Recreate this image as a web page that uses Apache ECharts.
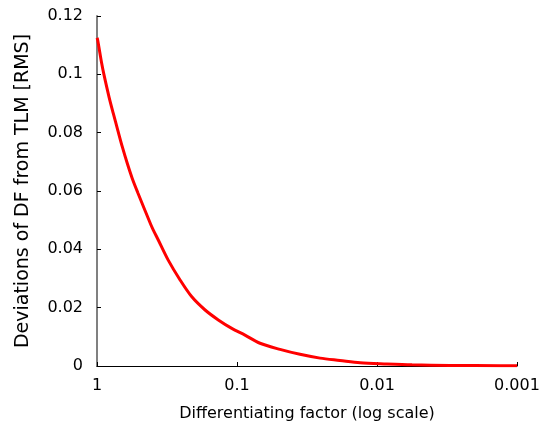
<!DOCTYPE html>
<html>
<head>
<meta charset="utf-8">
<script src="https://cdn.jsdelivr.net/npm/echarts@6/dist/echarts.min.js"></script>
<style>
  html, body { margin: 0; padding: 0; background: #fff; }
  #chart { width: 547px; height: 431px; }
</style>
</head>
<body>
<div id="chart"></div>
<script>
  // differentiating factor (log scale) and RMS deviation
  const factors = [1, 0.989, 0.926, 0.891, 0.821, 0.765, 0.711, 0.660, 0.608, 0.560,
    0.512, 0.413, 0.396, 0.365, 0.310, 0.255, 0.211, 0.169, 0.136, 0.109, 0.0877,
    0.0685, 0.0493, 0.0355, 0.0255, 0.0184, 0.0132, 0.00853, 0.00562, 0.00301, 0.00132, 0.001]
  const deviations = [0.1125, 0.1118, 0.1038, 0.0998, 0.0923, 0.0866, 0.0809, 0.0752, 0.0695, 0.0643,
    0.0595, 0.0485, 0.0466, 0.0432, 0.0363, 0.0295, 0.0238, 0.0192, 0.0158, 0.0129, 0.0106,
    0.0078, 0.0057, 0.0040, 0.0027, 0.0019, 0.0011, 0.0007, 0.0004, 0.0002, 0.0001, 0.00005]
  const xTickLabels = { 1: '1', 0.1: '0.1', 0.01: '0.01', 0.001: '0.001' }

  const font = 'DejaVu Sans, sans-serif'
  const chart = echarts.init(document.getElementById('chart'))

  chart.setOption({
    animation: false,
    grid: { left: 97, right: 30, top: 16, bottom: 65 },
    xAxis: {
      type: 'log',
      logBase: 10,
      inverse: true,
      min: 0.001,
      max: 1,
      name: 'Differentiating factor (log scale)',
      nameLocation: 'middle',
      nameGap: 40,
      nameTextStyle: { color: '#000', fontSize: 16, fontFamily: font },
      axisLine: { lineStyle: { color: '#000', width: 1 } },
      axisTick: { inside: true, length: 4, lineStyle: { color: '#000' } },
      minorTick: { show: false },
      splitLine: { show: false },
      axisLabel: {
        color: '#000',
        fontSize: 16,
        fontFamily: font,
        margin: 12,
        formatter: v => xTickLabels[+v.toPrecision(3)] || ''
      }
    },
    yAxis: {
      type: 'value',
      min: 0,
      max: 0.12,
      interval: 0.02,
      name: 'Deviations of DF from TLM [RMS]',
      nameLocation: 'middle',
      nameGap: 64,
      nameTextStyle: { color: '#000', fontSize: 19, fontFamily: font },
      axisLine: { show: true, lineStyle: { color: '#808080', width: 2 } },
      axisTick: { show: true, inside: true, length: 4, lineStyle: { color: '#000' } },
      splitLine: { show: false },
      axisLabel: {
        color: '#000',
        fontSize: 16,
        fontFamily: font,
        margin: 14,
        formatter: v => +v.toFixed(2) + ''
      }
    },
    series: [{
      type: 'line',
      data: factors.map((f, i) => [f, deviations[i]]),
      showSymbol: false,
      smooth: 0.3,
      lineStyle: { color: '#ff0000', width: 3 }
    }]
  })
</script>
</body>
</html>
